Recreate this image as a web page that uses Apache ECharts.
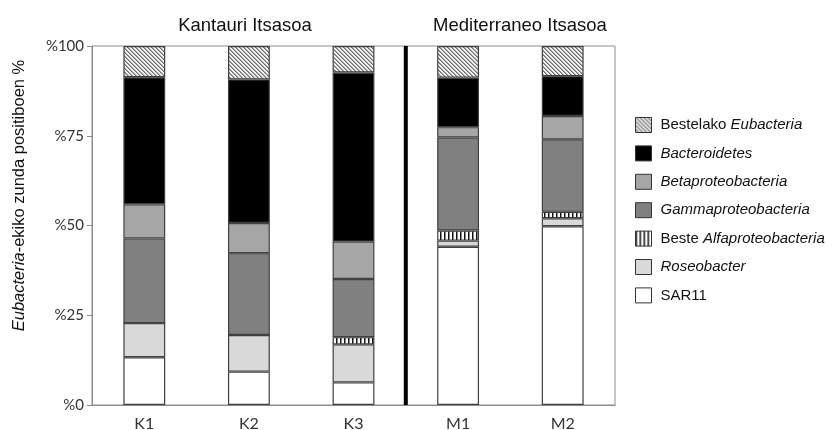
<!DOCTYPE html>
<html>
<head>
<meta charset="utf-8">
<script src="https://cdn.jsdelivr.net/npm/echarts@6/dist/echarts.min.js"></script>
<style>html,body{margin:0;padding:0;background:#fff}#c{width:833px;height:430px}</style>
</head>
<body>
<div id="c"></div>
<script>
const categories = ['K1', 'K2', 'K3', 'M1', 'M2'];
const yTicks = ['%0', '%25', '%50', '%75', '%100'];
const groupTitles = ['Kantauri Itsasoa', 'Mediterraneo Itsasoa'];
const separatorAt = 3; // boundary between K3 and M1 (category index)

const sar11        = [13.3, 9.3, 6.3, 44.1, 49.8];
const roseobacter  = [9.5, 10.2, 10.6, 1.7, 2.2];
const besteAlfa    = [0, 0, 2.0, 2.8, 1.8];
const gamma        = [23.6, 22.8, 16.2, 25.9, 20.2];
const beta         = [9.5, 8.4, 10.4, 2.9, 6.5];
const bacteroidetes= [35.4, 40.0, 47.1, 13.8, 11.1];
const bestelako    = [8.7, 9.3, 7.4, 8.8, 8.4];

const FONT = '"Liberation Sans", Arial, sans-serif';

function hatch() {
  const c = document.createElement('canvas'); c.width = 4; c.height = 4;
  const g = c.getContext('2d');
  g.fillStyle = '#f0f0f0'; g.fillRect(0, 0, 4, 4);
  g.fillStyle = '#6e6e6e';
  for (let i = 0; i < 4; i++) { g.fillRect(i, i, 1, 1); }
  g.fillStyle = '#a8a8a8';
  for (let i = 0; i < 4; i++) { g.fillRect((i + 1) % 4, i, 1, 1); }
  return { image: c, repeat: 'repeat' };
}
function vstripes() {
  const c = document.createElement('canvas'); c.width = 4; c.height = 4;
  const g = c.getContext('2d');
  g.fillStyle = '#ffffff'; g.fillRect(0, 0, 4, 4);
  g.fillStyle = '#111111'; g.fillRect(0, 0, 1, 4);
  g.fillStyle = '#888888'; g.fillRect(1, 0, 1, 4);
  return { image: c, repeat: 'repeat' };
}

const seriesDefs = [
  { name: 'SAR11', data: sar11, color: '#ffffff', label: '{n|SAR11}' },
  { name: 'Roseobacter', data: roseobacter, color: '#d9d9d9', label: '{i|Roseobacter}' },
  { name: 'Beste Alfaproteobacteria', data: besteAlfa, color: vstripes(), label: '{n|Beste }{i|Alfaproteobacteria}' },
  { name: 'Gammaproteobacteria', data: gamma, color: '#808080', label: '{i|Gammaproteobacteria}' },
  { name: 'Betaproteobacteria', data: beta, color: '#a6a6a6', label: '{i|Betaproteobacteria}' },
  { name: 'Bacteroidetes', data: bacteroidetes, color: '#000000', label: '{i|Bacteroidetes}' },
  { name: 'Bestelako Eubacteria', data: bestelako, color: hatch(), label: '{n|Bestelako }{i|Eubacteria}' }
];
const labelMap = {};
seriesDefs.forEach(d => labelMap[d.name] = d.label);

const chart = echarts.init(document.getElementById('c'), null, { renderer: 'canvas' });
const series = seriesDefs.map(d => ({
  name: d.name, type: 'bar', stack: 'total', data: d.data,
  barWidth: '40%',
  itemStyle: { color: d.color, borderColor: '#404040', borderWidth: 1.2 },
  emphasis: { disabled: true }, animation: false
}));
series.push({
  name: 'sep', type: 'line', xAxisIndex: 1, yAxisIndex: 0,
  data: [[separatorAt, 0], [separatorAt, 100]],
  symbol: 'none', silent: true, animation: false,
  lineStyle: { color: '#000', width: 4 }, z: 10
});

chart.setOption({
  animation: false,
  backgroundColor: '#fff',
  title: [
    { text: groupTitles[0], left: 240, top: 11, textAlign: 'center',
      textStyle: { fontFamily: FONT, fontSize: 18.5, fontWeight: 'normal', color: '#111' } },
    { text: groupTitles[1], left: 515, top: 11, textAlign: 'center',
      textStyle: { fontFamily: FONT, fontSize: 18.5, fontWeight: 'normal', color: '#111' } }
  ],
  grid: { left: 92, right: 218, top: 46, bottom: 25, show: true, borderColor: '#8c8c8c', borderWidth: 1,
    containLabel: false, outerBoundsMode: 'none' },
  legend: {
    orient: 'vertical', left: 635, top: 117, padding: 0,
    itemWidth: 16, itemHeight: 15, itemGap: 12.4,
    data: seriesDefs.map(d => d.name).reverse(),
    icon: 'rect',
    itemStyle: { borderColor: '#333', borderWidth: 1 },
    formatter: n => labelMap[n],
    textStyle: {
      fontFamily: FONT, fontSize: 15, color: '#111', lineHeight: 15, padding: [0, 0, 0, 4],
      rich: {
        n: { fontFamily: FONT, fontSize: 15, color: '#111', lineHeight: 15 },
        i: { fontFamily: FONT, fontSize: 15, color: '#111', fontStyle: 'italic', lineHeight: 15 }
      }
    },
    selectedMode: false
  },
  xAxis: [
    { type: 'category', data: categories,
      axisLine: { lineStyle: { color: '#8c8c8c' } },
      axisTick: { length: 5, lineStyle: { color: '#8c8c8c' } },
      axisLabel: { fontFamily: 'Lato', fontSize: 16, color: '#333', margin: 11 } },
    { type: 'value', min: 0, max: 5, show: false }
  ],
  yAxis: {
    type: 'value', min: 0, max: 100, interval: 25,
    splitLine: { show: false },
    axisLine: { show: true, lineStyle: { color: '#8c8c8c' } },
    axisTick: { show: true, length: 5, lineStyle: { color: '#8c8c8c' } },
    axisLabel: { fontFamily: 'Lato', fontSize: 15, color: '#333', margin: 8,
      formatter: v => yTicks[Math.round(v / 25)] },
    name: '{i|Eubacteria}{n|-ekiko zunda positiboen %}',
    nameLocation: 'middle', nameGap: 64, nameRotate: 90,
    nameTextStyle: {
      padding: [0, 0, 0, 60],
      rich: {
        n: { fontFamily: FONT, fontSize: 16.5, color: '#111' },
        i: { fontFamily: FONT, fontSize: 16.5, color: '#111', fontStyle: 'italic' }
      }
    }
  },
  series: series
});
</script>
</body>
</html>
